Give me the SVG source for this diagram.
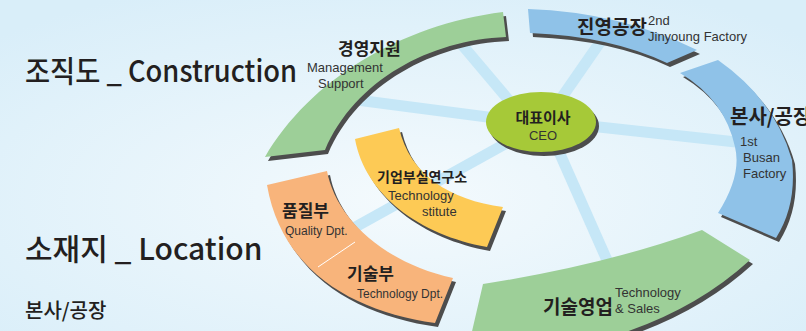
<svg xmlns="http://www.w3.org/2000/svg" width="806" height="331" viewBox="0 0 806 331">
<defs>
<radialGradient id="bg" cx="0.5" cy="0.6" r="0.7">
<stop offset="0" stop-color="#f4fafd"/>
<stop offset="1" stop-color="#d9eef9"/>
</radialGradient>
<style>
.sh{fill:#4d4d4d}
.green{fill:#9dcf98}
.blue{fill:#8fc2e8}
.yellow{fill:#fdca55}
.orange{fill:#f8b47b}
.spoke{stroke:#c6e7f7;stroke-width:11;fill:none}
.ko{font-family:"Noto Sans CJK KR","Noto Sans",sans-serif;font-weight:700;fill:#231f20}
.en{font-family:"Liberation Sans Narrow","Liberation Sans","Noto Sans CJK KR",sans-serif;fill:#333}
.title{font-family:"Noto Sans CJK KR","Noto Sans",sans-serif;font-weight:500;fill:#231f20}
</style>
</defs>
<rect width="806" height="331" fill="url(#bg)"/>
<g id="connectors">
<line class="spoke" x1="357" y1="100" x2="495" y2="118"/>
<line class="spoke" x1="458" y1="40" x2="512" y2="104"/>
<line class="spoke" x1="603" y1="38" x2="560" y2="100"/>
<line class="spoke" x1="590" y1="126" x2="736" y2="142"/>
<line class="spoke" x1="512" y1="140" x2="350" y2="230"/>
<line class="spoke" x1="556" y1="145" x2="614" y2="276"/>
</g>
<g id="mgmt">
<path class="sh" transform="translate(3,4)" d="M265,157 C310,80 400,25 503,12 L506,37 C430,40 355,80 325,150 Z"/>
<path class="green" d="M265,157 C310,80 400,25 503,12 L506,37 C430,40 355,80 325,150 Z"/>
<text class="ko" x="338" y="55" font-size="17">경영지원</text>
<text class="en" x="307" y="72" font-size="13">Management</text>
<text class="en" x="318" y="88" font-size="13">Support</text>
</g>
<g id="jinyoung">
<path class="sh" transform="translate(3,4)" d="M528,9 Q620,12 697,50 L667,63 Q610,36 530,33 Z"/>
<path class="blue" d="M528,9 Q620,12 697,50 L667,63 Q610,36 530,33 Z"/>
<text class="ko" x="577" y="34" font-size="19">진영공장</text>
<text class="en" x="648" y="25" font-size="13">2nd</text>
<text class="en" x="648" y="41" font-size="13">Jinyoung Factory</text>
</g>
<g id="busan">
<path class="sh" transform="translate(3,4)" d="M718,60 Q775,100 792,160 Q797,205 776,238 L718,213 Q742,175 735,147 Q725,100 680,73 Z"/>
<path class="blue" d="M718,60 Q775,100 792,160 Q797,205 776,238 L718,213 Q742,175 735,147 Q725,100 680,73 Z"/>
<text class="ko" x="730" y="124" font-size="20">본사/공장</text>
<text class="en" x="740" y="146" font-size="13">1st</text>
<text class="en" x="743" y="162" font-size="13">Busan</text>
<text class="en" x="743" y="178" font-size="13">Factory</text>
</g>
<g id="sales">
<path class="sh" transform="translate(3,4)" d="M702,230 L750,260 Q690,315 600,340 L470,340 L483,284 Q605,265 702,230 Z"/>
<path class="green" d="M702,230 L750,260 Q690,315 600,340 L470,340 L483,284 Q605,265 702,230 Z"/>
<text class="ko" x="543" y="314" font-size="19">기술영업</text>
<text class="en" x="615" y="297" font-size="13">Technology</text>
<text class="en" x="615" y="313" font-size="13">&amp; Sales</text>
</g>
<g id="lab">
<path class="sh" transform="translate(3,4)" d="M355,139 L399,128 C410,175 450,200 503,207 L487,247 C420,235 365,195 355,139 Z"/>
<path class="yellow" d="M355,139 L399,128 C410,175 450,200 503,207 L487,247 C420,235 365,195 355,139 Z"/>
<text class="ko" x="377" y="182" font-size="14">기업부설연구소</text>
<text class="en" x="388" y="200" font-size="13">Technology</text>
<text class="en" x="422" y="216" font-size="13">stitute</text>
</g>
<g id="quality-tech">
<path class="sh" transform="translate(3,4)" d="M267,185 L327,171 C335,215 380,262 453,278 L435,323 C355,312 282,272 267,185 Z"/>
<path class="orange" d="M267,185 L327,171 C335,215 380,262 453,278 L435,323 C355,312 282,272 267,185 Z"/>
<line x1="318" y1="267" x2="355" y2="242" stroke="#fff" stroke-width="1"/>
<text class="ko" x="282" y="217" font-size="17">품질부</text>
<text class="en" x="285" y="235" font-size="12">Quality Dpt.</text>
<text class="ko" x="347" y="280" font-size="17">기술부</text>
<text class="en" x="357" y="298" font-size="12">Technology Dpt.</text>
</g>
<g id="ceo">
<ellipse cx="544" cy="126" rx="55" ry="30" fill="#4d4d4d"/>
<ellipse cx="541" cy="122" rx="55" ry="30" fill="#a6c938"/>
<text class="ko" x="543" y="123" font-size="15" text-anchor="middle">대표이사</text>
<text class="en" x="543" y="140" font-size="13" text-anchor="middle">CEO</text>
</g>
<text class="title" transform="translate(25,82) scale(0.91,1)" x="0" y="0" font-size="30">조직도 _ Construction</text>
<text class="title" x="25" y="260" font-size="30">소재지 _ Location</text>
<text class="title" x="25" y="318" font-size="20">본사/공장</text>
</svg>
